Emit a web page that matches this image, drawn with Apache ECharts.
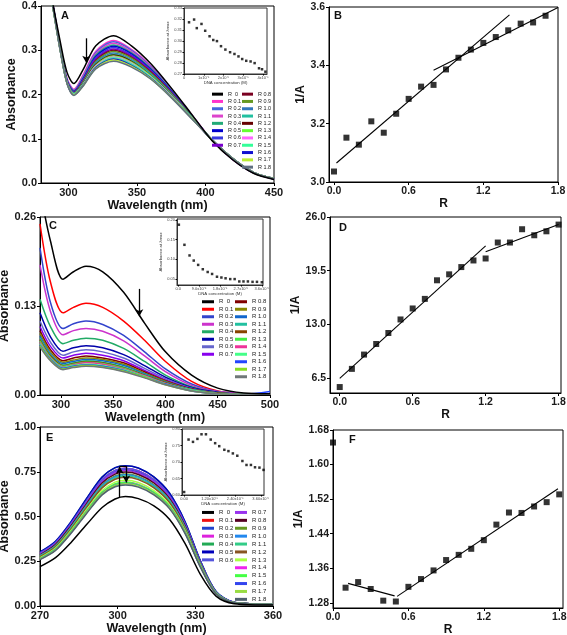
<!DOCTYPE html>
<html><head><meta charset="utf-8">
<script src="https://cdn.jsdelivr.net/npm/echarts@6/dist/echarts.min.js"></script>
<style>html,body{margin:0;padding:0;background:#fff}#c{width:567px;height:635px}</style>
</head><body><div id="c"></div>
<script>
const FF = 'Liberation Sans, Arial, sans-serif';
// ---------- labels ----------
const rLabels = ['R  0','R 0.1','R 0.2','R 0.3','R 0.4','R 0.5','R 0.6','R 0.7','R 0.8','R 0.9','R 1.0','R 1.1','R 1.2','R 1.3','R 1.4','R 1.5','R 1.6','R 1.7','R 1.8'];
// ---------- Panel A spectra ----------
const wlA = [285, 289, 294, 299, 304, 311, 320, 333, 346, 360, 375, 390, 405, 420, 435, 450];
const absA = [
 [0.470,0.400,0.320,0.250,0.225,0.258,0.310,0.333,0.310,0.270,0.215,0.155,0.095,0.052,0.022,0.008],
 [0.468,0.398,0.312,0.236,0.212,0.246,0.298,0.322,0.302,0.265,0.212,0.154,0.096,0.053,0.023,0.009],
 [0.468,0.398,0.310,0.234,0.210,0.243,0.295,0.319,0.300,0.263,0.211,0.153,0.096,0.053,0.023,0.009],
 [0.467,0.397,0.309,0.233,0.209,0.241,0.292,0.316,0.297,0.261,0.210,0.153,0.096,0.053,0.023,0.009],
 [0.467,0.397,0.308,0.232,0.208,0.239,0.289,0.312,0.294,0.259,0.209,0.152,0.096,0.054,0.023,0.009],
 [0.466,0.396,0.307,0.231,0.207,0.237,0.286,0.309,0.292,0.257,0.208,0.152,0.096,0.054,0.024,0.009],
 [0.466,0.396,0.306,0.230,0.206,0.235,0.283,0.306,0.289,0.255,0.206,0.151,0.096,0.054,0.024,0.009],
 [0.465,0.395,0.305,0.229,0.205,0.233,0.280,0.303,0.287,0.253,0.205,0.151,0.096,0.054,0.024,0.009],
 [0.465,0.395,0.304,0.229,0.204,0.231,0.277,0.300,0.284,0.251,0.204,0.150,0.096,0.054,0.024,0.010],
 [0.464,0.394,0.304,0.228,0.203,0.230,0.275,0.297,0.282,0.249,0.203,0.150,0.096,0.055,0.024,0.010],
 [0.464,0.394,0.303,0.228,0.203,0.228,0.272,0.294,0.279,0.247,0.201,0.149,0.096,0.055,0.024,0.010],
 [0.463,0.393,0.303,0.227,0.202,0.227,0.270,0.291,0.277,0.245,0.200,0.149,0.097,0.055,0.024,0.010],
 [0.463,0.393,0.302,0.227,0.201,0.226,0.268,0.289,0.275,0.243,0.199,0.148,0.097,0.055,0.024,0.010],
 [0.462,0.392,0.302,0.226,0.201,0.225,0.266,0.287,0.273,0.242,0.198,0.148,0.097,0.055,0.024,0.010],
 [0.462,0.392,0.301,0.226,0.200,0.224,0.264,0.285,0.271,0.240,0.197,0.147,0.097,0.055,0.024,0.010],
 [0.461,0.391,0.301,0.226,0.200,0.223,0.262,0.283,0.269,0.239,0.196,0.147,0.097,0.055,0.024,0.010],
 [0.461,0.391,0.300,0.225,0.199,0.222,0.261,0.280,0.266,0.237,0.195,0.146,0.097,0.055,0.024,0.010],
 [0.460,0.390,0.300,0.225,0.199,0.221,0.259,0.278,0.264,0.236,0.194,0.146,0.097,0.055,0.024,0.010],
 [0.460,0.390,0.300,0.225,0.198,0.220,0.258,0.275,0.262,0.235,0.193,0.145,0.097,0.055,0.024,0.010]
];
// ---------- Panel C spectra ----------
const wlC = [280, 290, 302, 312, 324, 340, 360, 380, 400, 425, 450, 475, 500];
const absC = [
 [0.300,0.225,0.169,0.180,0.188,0.180,0.150,0.105,0.063,0.029,0.010,0.003,0.002],
 [0.250,0.165,0.120,0.128,0.134,0.128,0.108,0.080,0.049,0.020,0.006,0.002,0.001],
 [0.215,0.135,0.097,0.104,0.108,0.103,0.087,0.063,0.038,0.016,0.005,0.002,0.001],
 [0.190,0.122,0.088,0.094,0.097,0.093,0.079,0.057,0.034,0.014,0.005,0.002,0.001],
 [0.140,0.100,0.075,0.080,0.083,0.080,0.068,0.049,0.029,0.012,0.004,0.001,0.001],
 [0.120,0.085,0.064,0.069,0.072,0.069,0.059,0.043,0.026,0.011,0.004,0.001,0.002],
 [0.108,0.077,0.058,0.063,0.066,0.063,0.054,0.039,0.024,0.010,0.003,0.001,0.001],
 [0.100,0.071,0.054,0.058,0.061,0.058,0.050,0.036,0.022,0.009,0.003,0.001,0.001],
 [0.094,0.066,0.050,0.054,0.057,0.054,0.047,0.034,0.021,0.009,0.003,0.001,0.001],
 [0.090,0.063,0.048,0.051,0.054,0.052,0.045,0.032,0.020,0.008,0.003,0.001,0.001],
 [0.086,0.060,0.046,0.049,0.052,0.050,0.043,0.031,0.019,0.008,0.003,0.001,0.002],
 [0.083,0.058,0.044,0.047,0.050,0.048,0.041,0.030,0.018,0.008,0.003,0.001,0.001],
 [0.081,0.057,0.043,0.046,0.049,0.047,0.040,0.029,0.018,0.007,0.003,0.001,0.001],
 [0.079,0.055,0.042,0.045,0.048,0.046,0.039,0.028,0.017,0.007,0.002,0.001,0.001],
 [0.077,0.054,0.041,0.044,0.047,0.045,0.038,0.028,0.017,0.007,0.002,0.001,0.001],
 [0.075,0.053,0.040,0.043,0.045,0.043,0.037,0.027,0.016,0.007,0.002,0.001,0.001],
 [0.073,0.052,0.039,0.042,0.044,0.042,0.036,0.026,0.016,0.006,0.002,0.001,0.005],
 [0.072,0.051,0.038,0.041,0.043,0.041,0.035,0.026,0.015,0.006,0.002,0.001,0.001],
 [0.070,0.050,0.037,0.040,0.042,0.040,0.034,0.025,0.015,0.006,0.002,0.001,0.001]
];
// ---------- Panel E spectra ----------
const wlE = [270, 276, 282, 288, 294, 299, 303, 308, 314, 320, 326, 332, 338, 345, 360];
const absE = [
 [0.220,0.270,0.355,0.455,0.550,0.598,0.612,0.600,0.560,0.485,0.350,0.175,0.055,0.013,0.005],
 [0.294,0.353,0.461,0.588,0.705,0.756,0.768,0.754,0.705,0.617,0.461,0.245,0.078,0.020,0.010],
 [0.291,0.349,0.457,0.582,0.699,0.750,0.761,0.747,0.699,0.612,0.457,0.243,0.078,0.020,0.010],
 [0.295,0.353,0.462,0.589,0.707,0.758,0.770,0.756,0.707,0.619,0.462,0.246,0.079,0.020,0.010],
 [0.300,0.360,0.470,0.600,0.720,0.772,0.784,0.770,0.720,0.630,0.470,0.250,0.080,0.020,0.010],
 [0.302,0.362,0.471,0.601,0.721,0.773,0.784,0.771,0.721,0.631,0.472,0.251,0.081,0.021,0.010],
 [0.296,0.355,0.462,0.589,0.706,0.757,0.768,0.755,0.706,0.618,0.462,0.246,0.079,0.020,0.010],
 [0.290,0.347,0.454,0.579,0.695,0.746,0.757,0.743,0.695,0.609,0.454,0.241,0.077,0.020,0.010],
 [0.286,0.343,0.449,0.572,0.687,0.737,0.748,0.735,0.687,0.601,0.449,0.239,0.076,0.019,0.010],
 [0.282,0.338,0.442,0.564,0.677,0.726,0.737,0.724,0.677,0.593,0.442,0.235,0.075,0.019,0.010],
 [0.281,0.336,0.440,0.561,0.673,0.722,0.733,0.720,0.673,0.589,0.440,0.234,0.075,0.019,0.010],
 [0.278,0.333,0.436,0.555,0.666,0.715,0.726,0.713,0.666,0.584,0.436,0.232,0.074,0.019,0.009],
 [0.275,0.330,0.431,0.550,0.660,0.708,0.719,0.706,0.660,0.578,0.431,0.229,0.073,0.019,0.009],
 [0.269,0.323,0.422,0.538,0.645,0.692,0.703,0.690,0.645,0.565,0.422,0.224,0.072,0.018,0.009],
 [0.265,0.317,0.415,0.529,0.634,0.681,0.691,0.679,0.634,0.556,0.415,0.220,0.070,0.018,0.009],
 [0.266,0.318,0.416,0.530,0.635,0.682,0.691,0.678,0.635,0.557,0.416,0.221,0.071,0.018,0.009],
 [0.262,0.314,0.410,0.523,0.628,0.674,0.684,0.672,0.628,0.550,0.410,0.218,0.070,0.018,0.009],
 [0.261,0.313,0.410,0.522,0.627,0.673,0.683,0.671,0.627,0.549,0.410,0.218,0.070,0.018,0.009],
 [0.259,0.310,0.406,0.517,0.621,0.666,0.676,0.664,0.621,0.544,0.406,0.216,0.069,0.018,0.009]
];
// ---------- Insets (concentration in units of 1e-5 M) ----------
const concA = [0.255,0.511,0.647,0.885,1.072,1.294,1.481,1.668,1.872,2.094,2.332,2.553,2.757,2.945,3.149,3.370,3.574,3.796,3.949,4.119];
const insetA = [0.3170,0.3195,0.3117,0.3155,0.3093,0.3043,0.3009,0.2999,0.2953,0.2922,0.2898,0.2882,0.2860,0.2836,0.2820,0.2814,0.2799,0.2752,0.2743,0.2721];
const concC = [0.03,0.27,0.49,0.67,0.86,1.06,1.27,1.46,1.67,1.86,2.04,2.24,2.43,2.63,2.81,3.00,3.20,3.39,3.60];
const insetC = [0.188,0.137,0.110,0.097,0.086,0.075,0.068,0.063,0.056,0.054,0.052,0.050,0.050,0.044,0.044,0.044,0.043,0.043,0.042];
const concE = [0,0.208,0.416,0.624,0.816,1.024,1.248,1.456,1.648,1.888,2.08,2.288,2.496,2.736,2.928,3.136,3.328,3.536,3.728];
const insetE = [0.609,0.768,0.761,0.770,0.784,0.784,0.768,0.757,0.748,0.737,0.733,0.726,0.719,0.703,0.691,0.691,0.684,0.683,0.676];
// ---------- 1/A vs R ----------
const rB = [0,0.1,0.2,0.3,0.4,0.5,0.6,0.7,0.8,0.9,1.0,1.1,1.2,1.3,1.4,1.5,1.6,1.7];
const invB = [3.036,3.152,3.128,3.208,3.169,3.234,3.285,3.327,3.333,3.386,3.426,3.454,3.477,3.497,3.520,3.543,3.547,3.570];
const fitB1 = [[0.02,3.065],[1.41,3.573]];
const fitB2 = [[0.80,3.383],[1.80,3.598]];
const rDF = [0,0.1,0.2,0.3,0.4,0.5,0.6,0.7,0.8,0.9,1.0,1.1,1.2,1.3,1.4,1.5,1.6,1.7,1.8];
const invD = [5.42,7.62,9.35,10.63,11.96,13.60,14.93,16.09,18.34,19.06,19.94,20.74,20.98,22.91,22.91,24.52,23.79,24.27,25.08];
const fitD1 = [[0,6.46],[1.2,22.51]];
const fitD2 = [[1.2,21.79],[1.8,25.08]];
const invF = [1.651,1.315,1.328,1.312,1.285,1.283,1.317,1.335,1.355,1.379,1.391,1.405,1.425,1.461,1.489,1.488,1.503,1.513,1.531];
const fitF1 = [[0.12,1.325],[0.49,1.296]];
const fitF2 = [[0.51,1.295],[1.79,1.544]];
// ---------- arrows (data coords) ----------
const arrowA = [[313,0.327],[313,0.272]];
const arrowC = [[375,0.155],[375,0.115]];
const arrowEup = [[300.8,0.605],[300.8,0.778]];
const arrowEdown = [[303.3,0.782],[303.3,0.690]];

// ---------- styles ----------
const colorsA = ['#000000','#ff33cc','#4466dd','#dd44cc','#22aa77','#0000cc','#3a3ae0','#7a00cc','#7a0020','#669922','#3377bb','#22c0a0','#660000','#66ff33','#ff66ff','#33ff99','#1010d0','#bbee33','#607080'];
const colorsC = ['#000000','#ff0000','#3344cc','#cc33cc','#22aa66','#0000aa','#6666cc','#8800ee','#800000','#888800','#1166cc','#22c0a0','#884400','#44ee44','#ee3399','#44ff88','#2244ff','#88dd22','#707878'];
const colorsE = ['#000000','#ee1111','#2244cc','#dd22dd','#22aa55','#0000bb','#5555dd','#9933ee','#550022','#669922','#2288ee','#33cc88','#885522','#aaff44','#ee22ee','#44ff44','#3344ee','#99dd44','#506070'];

function mkAxis(gi, min, max, o) {
  const lab = {fontSize:o.fs||11, fontWeight:o.fw||'bold', color:o.lcol||'#1a1a1a', fontFamily:FF, margin:o.margin||4};
  if (o.fmt) lab.formatter = o.fmt;
  const tick = {show:true, length:o.tl||3, inside:!!o.inside, lineStyle:{color:'#000'}};
  if (o.custom) { lab.customValues = o.custom; tick.customValues = o.custom; }
  const a = {gridIndex:gi, type:'value', min:min, max:max,
    axisLine:{show:true, onZero:false, lineStyle:{color:o.lc||'#000', width:1}},
    axisTick:tick, axisLabel:lab, splitLine:{show:false},
    name:o.name||'', nameLocation:'middle', nameGap:o.gap||15,
    nameTextStyle:{fontSize:o.nfs||12.5, fontWeight:o.nfw||'bold', color:o.ncol||'#111', fontFamily:FF}};
  if (o.interval) a.interval = o.interval;
  return a;
}
function grid(l,t,w,h,extra){ return Object.assign({left:l, top:t, width:w, height:h, show:true, borderColor:'#000', borderWidth:1, backgroundColor:'transparent', containLabel:false, outerBoundsMode:'none'}, extra||{}); }

const grids = [
  grid(41,6,233,177), grid(329,7,229,175),
  grid(40,217,230,178), grid(330,217,231,176),
  grid(40,427,233,179), grid(333,430,230,178),
  grid(184,8,83,66,{borderColor:'#333',backgroundColor:'#fff'}),
  grid(177,219,86,66,{borderColor:'#333',backgroundColor:'#fff'}),
  grid(182,429,82,66,{borderColor:'#333',backgroundColor:'#fff'})
];
const f1 = v=>v.toFixed(1), f2 = v=>v.toFixed(2);
const insetOpts = {fs:4, fw:'normal', lcol:'#444', margin:2, tl:1.5, nfs:4.3, nfw:'normal', ncol:'#333', lc:'#333'};
const xAxes = [
  mkAxis(0,280,450,{custom:[300,350,400,450], name:'Wavelength (nm)', gap:11}),
  mkAxis(1,-0.04,1.8,{custom:[0,0.6,1.2,1.8], fmt:f1, fs:10.5, name:'R', gap:10, nfs:12}),
  mkAxis(2,280,500,{custom:[300,350,400,450,500], name:'Wavelength (nm)', gap:12}),
  mkAxis(3,-0.08,1.82,{custom:[0,0.6,1.2,1.8], fmt:f1, fs:10.5, name:'R', gap:13, nfs:12}),
  mkAxis(4,270,360,{interval:30, name:'Wavelength (nm)', gap:12}),
  mkAxis(5,0,1.83,{custom:[0,0.6,1.2,1.8], fmt:f1, fs:10.5, name:'R', gap:11, nfs:12}),
  mkAxis(6,0,4.2,Object.assign({custom:[0,1,2,3,4], fmt:v=>v===0?'0':v+'x10⁻⁵', name:'DNA concentration (M)', gap:5},insetOpts)),
  mkAxis(7,-0.05,3.65,Object.assign({custom:[0,0.9,1.8,2.7,3.6], fmt:v=>v===0?'0.0':(v<1?(v*10).toFixed(1)+'x10⁻⁶':v.toFixed(1)+'x10⁻⁵'), name:'DNA concentration (M)', gap:5},insetOpts)),
  mkAxis(8,-0.1,3.75,Object.assign({custom:[0,1.2,2.4,3.6], fmt:v=>v===0?'0.00':v.toFixed(2)+'x10⁻⁵', name:'DNA concentration (M)', gap:5},insetOpts))
];
const yAxes = [
  mkAxis(0,0,0.4,{interval:0.1, fmt:f1, name:'Absorbance', gap:16}),
  mkAxis(1,3.0,3.6,{interval:0.2, fmt:f1, fs:10.5, name:'1/A', gap:14, nfs:12}),
  mkAxis(2,0,0.26,{interval:0.13, fmt:f2, name:'Absorbance', gap:22}),
  mkAxis(3,4.7,26,{custom:[6.5,13,19.5,26], fmt:f1, fs:10.5, name:'1/A', gap:22, nfs:12}),
  mkAxis(4,0,1,{interval:0.25, fmt:f2, name:'Absorbance', gap:23}),
  mkAxis(5,1.268,1.68,{custom:[1.28,1.36,1.44,1.52,1.60,1.68], fmt:f2, fs:10.5, name:'1/A', gap:19, nfs:12}),
  mkAxis(6,0.27,0.33,Object.assign({interval:0.01, fmt:f2, name:'Absorbance at λmax', gap:9},insetOpts)),
  mkAxis(7,0.035,0.2025,Object.assign({custom:[0.05,0.10,0.15,0.20], fmt:f2, name:'Absorbance at λmax', gap:9},insetOpts)),
  mkAxis(8,0.60,0.80,Object.assign({interval:0.05, fmt:f2, name:'Absorbance at λmax', gap:9},insetOpts))
];

const series = [];
function spectra(wl, rows, colors, gi, suffix) {
  rows.forEach((row,i)=>{
    series.push({type:'line', name:rLabels[i]+suffix, xAxisIndex:gi, yAxisIndex:gi,
      data: wl.map((w,j)=>[w,row[j]]), showSymbol:false, symbol:'none', smooth:0.3, clip:true,
      lineStyle:{color:colors[i], width:1.5}, itemStyle:{color:colors[i]}, silent:true, z:2+ (i===0?1:0)});
  });
}
spectra(wlA, absA, colorsA, 0, '');
spectra(wlC, absC, colorsC, 2, '\u200b');
spectra(wlE, absE, colorsE, 4, '\u200b\u200b');

function arrowSeries(gi, segs) {
  series.push({type:'line', xAxisIndex:gi, yAxisIndex:gi, data:[], silent:true, z:5,
    markLine:{silent:true, animation:false, symbol:['none','arrow'], symbolSize:[6,7], label:{show:false},
      lineStyle:{color:'#000', width:1.3, type:'solid'},
      data: segs}});
}
arrowSeries(0, [[{coord:arrowA[0]},{coord:arrowA[1]}]]);
arrowSeries(2, [[{coord:arrowC[0]},{coord:arrowC[1]}]]);
arrowSeries(4, [[{coord:arrowEup[0]},{coord:arrowEup[1]}],[{coord:arrowEdown[0]},{coord:arrowEdown[1]}],
  [{coord:[arrowEup[1][0],arrowEdown[0][1]],symbol:'none'},{coord:arrowEdown[0],symbol:'none'}]]);

function scatter(gi, xs, ys, size) {
  series.push({type:'scatter', xAxisIndex:gi, yAxisIndex:gi, data: xs.map((x,i)=>[x,ys[i]]),
    symbol:'rect', symbolSize:size, itemStyle:{color:'#000'}, clip:false, silent:true, z:4});
}
function fit(gi, pts) {
  series.push({type:'line', xAxisIndex:gi, yAxisIndex:gi, data:pts, showSymbol:false, symbol:'none',
    lineStyle:{color:'#000', width:1.1}, silent:true, z:3});
}
scatter(1, rB, invB, 6); fit(1, fitB1); fit(1, fitB2);
scatter(3, rDF, invD, 6); fit(3, fitD1); fit(3, fitD2);
scatter(5, rDF, invF, 6); fit(5, fitF1); fit(5, fitF2);
scatter(6, concA, insetA, 2.5);
scatter(7, concC, insetC, 2.5);
scatter(8, concE, insetE, 2.5);

function legendCol(names, left, top, lh, iw, fs) {
  return {show:true, orient:'vertical', left:left, top:top, itemWidth:iw||12, itemHeight:3, itemGap:0,
    icon:'rect', padding:0, selectedMode:false, data:names,
    formatter: n=>n.replace(/\u200b/g,''),
    textStyle:{fontSize:fs||6, lineHeight:lh, color:'#222', fontFamily:FF}};
}
const namesA = rLabels.map(n=>n), namesC = rLabels.map(n=>n+'\u200b'), namesE = rLabels.map(n=>n+'\u200b\u200b');
const legends = [
  legendCol(namesA.slice(0,8), 212, 90.5, 7.3, 11, 5.5), legendCol(namesA.slice(8), 242, 90.5, 7.3, 11, 5.5),
  legendCol(namesC.slice(0,8), 202, 298, 7.5), legendCol(namesC.slice(8), 235, 298, 7.5),
  legendCol(namesE.slice(0,7), 202, 508.5, 7.9), legendCol(namesE.slice(7), 235, 508.5, 7.9)
];
function letter(t,l,tp){ return {text:t, left:l, top:tp, padding:0, textStyle:{fontSize:11, fontWeight:'bold', color:'#111', fontFamily:FF}}; }
const titles = [letter('A',61,10), letter('B',334,10), letter('C',49,220), letter('D',339,222), letter('E',46,432), letter('F',349,434)];

const chart = echarts.init(document.getElementById('c'), null, {renderer:'canvas'});
chart.setOption({animation:false, backgroundColor:'#fff', title:titles, legend:legends,
  grid:grids, xAxis:xAxes, yAxis:yAxes, series:series});
</script></body></html>
